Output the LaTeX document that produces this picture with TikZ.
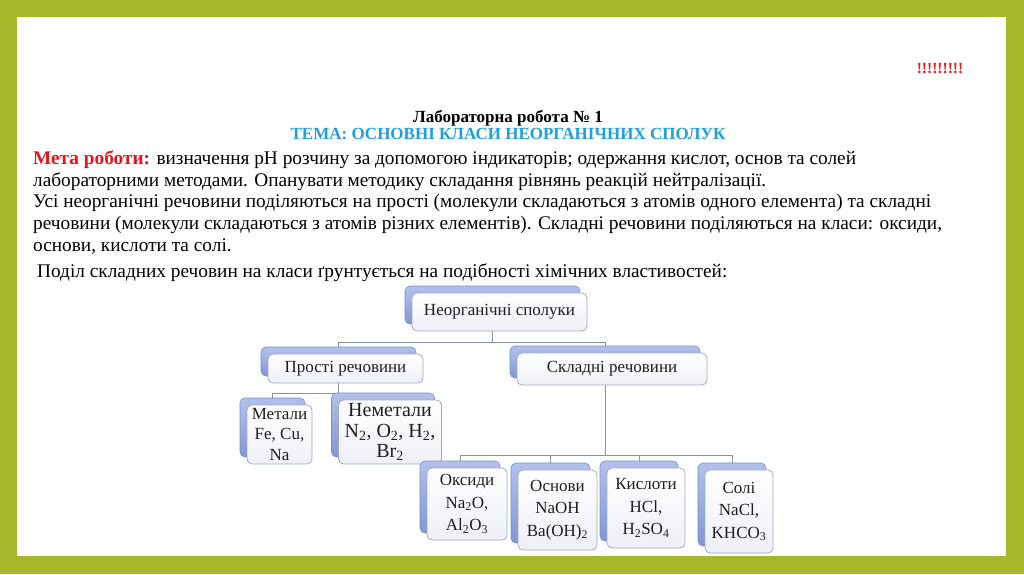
\documentclass[tikz,border=0pt]{standalone}
\usepackage{fontspec}
\setmainfont{Liberation Serif}
\definecolor{olivebg}{RGB}{165,183,42}
\definecolor{metared}{RGB}{232,20,27}
\definecolor{temablue}{RGB}{30,160,222}
\definecolor{backtop}{RGB}{178,193,235}
\definecolor{backbot}{RGB}{130,150,212}
\definecolor{backedge}{RGB}{125,142,200}
\definecolor{frontedge}{RGB}{160,170,196}
\definecolor{frontbot}{RGB}{238,240,246}
\definecolor{connc}{RGB}{135,145,168}
\definecolor{boxtext}{RGB}{30,30,30}
\pgfdeclarelayer{bg}
\pgfdeclarelayer{lines}
\pgfsetlayers{bg,lines,main}
\newcommand\bodyfont{\fontsize{19.3}{21.5}\selectfont}
\newcommand\boxfont{\fontsize{17}{22.5}\selectfont}
\newcommand\smartbox[7][]{%
  \node[backbox, minimum width=#5, minimum height=#6] (#2-b) at (#3-7,#4-7) {};
  \node[frontbox, minimum width=#5, minimum height=#6, #1] (#2) at (#3,#4) {#7};
}
\begin{document}
\begin{tikzpicture}[x=1pt,y=-1pt,
  backbox/.style={draw=backedge, line width=0.6pt, rounded corners=5pt, top color=backtop, bottom color=backbot, inner sep=0pt},
  frontbox/.style={draw=frontedge, line width=0.8pt, rounded corners=5pt, top color=white, bottom color=frontbot, inner sep=0pt, align=center, text=boxtext, font=\boxfont},
  conn/.style={draw=connc, line width=0.8pt},
  bodyline/.style={anchor=base west, inner sep=0pt, font=\bodyfont, text=black}]
\useasboundingbox (0,0) rectangle (1024,574);
\begin{pgfonlayer}{bg}
  \fill[olivebg] (0,0) rectangle (1024,574);
  \fill[white] (17,17) rectangle (1006,556);
\end{pgfonlayer}

% header texts
\node[anchor=base, inner sep=0pt, text=metared, font=\fontsize{15.5}{17}\selectfont\bfseries] (excl) at (940,73) {!!!!!!!!!};
\node[anchor=base, inner sep=0pt, font=\fontsize{17}{19}\selectfont\bfseries] (title) at (508,122) {Лабораторна робота № 1};
\node[anchor=base, inner sep=0pt, text=temablue, font=\fontsize{17}{19}\selectfont\bfseries] (tema) at (508,139) {ТЕМА: ОСНОВНІ КЛАСИ НЕОРГАНІЧНИХ СПОЛУК};

% body
\node[bodyline] (l1) at (33,164) {\textcolor{metared}{\bfseries Мета роботи:} визначення pH розчину за допомогою індикаторів; одержання кислот, основ та солей};
\node[bodyline] (l2) at (33,186) {лабораторними методами. Опанувати методику складання рівнянь реакцій нейтралізації.};
\node[bodyline] (l3) at (33,207) {Усі неорганічні речовини поділяються на прості (молекули складаються з атомів одного елемента) та складні};
\node[bodyline] (l4) at (33,229) {речовини (молекули складаються з атомів різних елементів). Складні речовини поділяються на класи: оксиди,};
\node[bodyline] (l5) at (33,251) {основи, кислоти та солі.};
\node[bodyline] (l6) at (37,277) {Поділ складних речовин на класи ґрунтується на подібності хімічних властивостей:};

% diagram
\smartbox{n1}{499.5}{312}{175}{38}{Неорганічні сполуки}
\smartbox{n2}{345.5}{368.5}{155}{29}{Прості речовини}
\smartbox{n3}{612}{369}{190}{32}{Складні речовини}
\smartbox[font=\fontsize{17}{20.5}\selectfont]{n4}{279.5}{434.5}{65}{59}{Метали\\Fe, Cu,\\Na}
\smartbox[font=\fontsize{20}{20.5}\selectfont]{n5}{390}{432}{103}{64}{Неметали\\N\textsubscript{2}, O\textsubscript{2}, H\textsubscript{2},\\Br\textsubscript{2}}
\smartbox{n6}{467}{504}{80}{72}{Оксиди\\Na\textsubscript{2}O,\\Al\textsubscript{2}O\textsubscript{3}}
\smartbox{n7}{557.5}{510}{79}{80}{Основи\\NaOH\\Ba(OH)\textsubscript{2}}
\smartbox{n8}{646}{508}{78}{80}{Кислоти\\HCl,\\H\textsubscript{2}SO\textsubscript{4}}
\smartbox{n9}{739}{511.5}{68}{83}{Солі\\NaCl,\\KHCO\textsubscript{3}}

\coordinate (y1) at (0,342);
\coordinate (y2) at (0,393);
\coordinate (y3) at (0,455);
\begin{pgfonlayer}{lines}
  \draw[conn] (n1-b.south) -- (n1-b.south |- y1) -| (n2-b.north);
  \draw[conn] (n1-b.south |- y1) -| (n3-b.north);
  \draw[conn] (n2-b.south) -- (n2-b.south |- y2) -| (n4-b.north);
  \draw[conn] (n2-b.south |- y2) -| (n5-b.north);
  \draw[conn] (n3-b.south) -- (n3-b.south |- y3) -| (n6-b.north);
  \draw[conn] (n3-b.south |- y3) -| (n7-b.north);
  \draw[conn] (n3-b.south |- y3) -| (n8-b.north);
  \draw[conn] (n3-b.south |- y3) -| (n9-b.north);
\end{pgfonlayer}
\end{tikzpicture}
\end{document}
